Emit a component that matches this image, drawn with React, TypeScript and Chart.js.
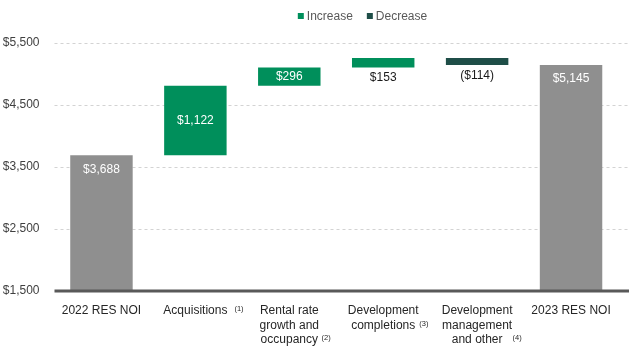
import React, { useEffect, useRef } from 'react';
import { Chart, registerables } from 'chart.js';

Chart.register(...registerables);

// ---------- data ----------
const categoryLines: string[][] = [
  ['2022 RES NOI'],
  ['Acquisitions'],
  ['Rental rate', 'growth and', 'occupancy'],
  ['Development', 'completions'],
  ['Development', 'management', 'and other'],
  ['2023 RES NOI'],
];
const footnotes = ['', '(1)', '(2)', '(3)', '(4)', ''];
const startTotal = 3688;
const changes = [1122, 296, 153, -114];
const endTotal = 5145;
const yTicks = [1500, 2500, 3500, 4500, 5500];
const legendLabels = ['Increase', 'Decrease'];

// ---------- styles ----------
const FONT = '"Liberation Sans", Arial, Helvetica, sans-serif';
const COLOR_TOTAL = '#8f8f8f';
const COLOR_INC = '#008f5b';
const COLOR_DEC = '#1f4e48';
const footnoteGap = [0, 7, 3.5, 4, 10, 0];
const LEGEND_CENTER_X = 362.5;

// build waterfall ranges from the values above
const totals: (number | null)[] = [startTotal, null, null, null, null, endTotal];
const increases: ([number, number] | null)[] = [null];
const decreases: ([number, number] | null)[] = [null];
{
  let cum = startTotal;
  changes.forEach((c) => {
    if (c >= 0) {
      increases.push([cum, cum + c]);
      decreases.push(null);
    } else {
      increases.push(null);
      decreases.push([cum + c, cum]);
    }
    cum += c;
  });
  increases.push(null);
  decreases.push(null);
}
const labelValues = [startTotal, ...changes, endTotal];

const fmt = (v: number) => {
  const s = '$' + Math.abs(v).toLocaleString('en-US');
  return v < 0 ? '(' + s + ')' : s;
};

const decorPlugin = {
  id: 'waterfallDecor',
  beforeDatasetsDraw(chart: any) {
    const { ctx, chartArea, scales } = chart;
    const y = scales.y;
    ctx.save();
    ctx.strokeStyle = '#d3d3d3';
    ctx.lineWidth = 1;
    ctx.setLineDash([3, 3]);
    yTicks.forEach((v) => {
      if (v === yTicks[0]) return;
      const py = Math.round(y.getPixelForValue(v)) + 0.5;
      ctx.beginPath();
      ctx.moveTo(chartArea.left, py);
      ctx.lineTo(chart.width, py);
      ctx.stroke();
    });
    ctx.restore();
  },
  afterDatasetsDraw(chart: any) {
    const { ctx, chartArea, scales } = chart;
    const x = scales.x;
    const y = scales.y;
    ctx.save();

    // baseline
    ctx.strokeStyle = '#595959';
    ctx.lineWidth = 3;
    ctx.beginPath();
    ctx.moveTo(chartArea.left, chartArea.bottom);
    ctx.lineTo(chart.width, chartArea.bottom);
    ctx.stroke();

    // data labels
    ctx.font = `12px ${FONT}`;
    ctx.textAlign = 'center';
    ctx.textBaseline = 'middle';
    labelValues.forEach((v, i) => {
      const cx = x.getPixelForValue(i);
      const txt = fmt(v);
      if (i === 0 || i === labelValues.length - 1) {
        const top = y.getPixelForValue(v);
        ctx.fillStyle = '#ffffff';
        ctx.fillText(txt, cx, top + 14);
      } else {
        const r = (increases[i] || decreases[i]) as [number, number];
        const pTop = y.getPixelForValue(Math.max(r[0], r[1]));
        const pBot = y.getPixelForValue(Math.min(r[0], r[1]));
        if (pBot - pTop >= 16) {
          ctx.fillStyle = '#ffffff';
          ctx.fillText(txt, cx, (pTop + pBot) / 2);
        } else {
          ctx.fillStyle = '#1a1a1a';
          ctx.fillText(txt, cx, pBot + 10.5);
        }
      }
    });

    // category labels
    ctx.textBaseline = 'alphabetic';
    categoryLines.forEach((lines, i) => {
      const cx = x.getPixelForValue(i);
      lines.forEach((line, j) => {
        const by = chartArea.bottom + 23 + j * 14.7;
        ctx.font = `12px ${FONT}`;
        ctx.fillStyle = '#262626';
        ctx.textAlign = 'center';
        ctx.fillText(line, cx, by);
        if (j === lines.length - 1 && footnotes[i]) {
          const w = ctx.measureText(line).width;
          ctx.font = `7.5px ${FONT}`;
          ctx.textAlign = 'left';
          ctx.fillText(footnotes[i], cx + w / 2 + footnoteGap[i], by - 3);
        }
      });
    });

    // legend
    ctx.font = `12px ${FONT}`;
    ctx.textAlign = 'left';
    ctx.textBaseline = 'alphabetic';
    const colors = [COLOR_INC, COLOR_DEC];
    const widths = legendLabels.map((t) => ctx.measureText(t).width);
    const box = 6;
    const gapText = 3;
    const gapItem = 14;
    const total =
      widths.reduce((a, b) => a + b, 0) + legendLabels.length * (box + gapText) + gapItem * (legendLabels.length - 1);
    let lx = LEGEND_CENTER_X - total / 2;
    legendLabels.forEach((t, i) => {
      ctx.fillStyle = colors[i];
      ctx.fillRect(lx, 13, box, box);
      lx += box + gapText;
      ctx.fillStyle = '#595959';
      ctx.fillText(t, lx, 19.5);
      lx += widths[i] + gapItem;
    });

    ctx.restore();
  },
};

export default function App() {
  const ref = useRef<HTMLCanvasElement>(null);
  useEffect(() => {
    if (!ref.current) return;
    const labels = categoryLines.map((l) => l.join(' '));
    const chart = new Chart(ref.current, {
      type: 'bar',
      data: {
        labels,
        datasets: [
          { label: 'Total', data: totals as any, backgroundColor: COLOR_TOTAL },
          { label: legendLabels[0], data: increases as any, backgroundColor: COLOR_INC },
          { label: legendLabels[1], data: decreases as any, backgroundColor: COLOR_DEC },
        ],
      },
      options: {
        responsive: false,
        animation: false,
        devicePixelRatio: 1,
        layout: { padding: { top: 43, right: 11, bottom: 64, left: 0 } },
        datasets: {
          bar: { grouped: false, categoryPercentage: 1, barPercentage: 0.665, borderWidth: 0 } as any,
        },
        plugins: {
          legend: { display: false },
          tooltip: { enabled: false },
        },
        scales: {
          x: { display: false },
          y: {
            min: 1500,
            max: 5500,
            grid: { display: false, drawTicks: false },
            border: { display: false },
            afterBuildTicks: (scale: any) => {
              scale.ticks = yTicks.map((v) => ({ value: v }));
            },
            afterFit: (scale: any) => {
              scale.width = 54.5;
            },
            ticks: {
              padding: 15,
              color: '#404040',
              font: { family: FONT, size: 12 },
              callback: (v: any) => '$' + Number(v).toLocaleString('en-US'),
            },
          },
        },
      },
      plugins: [decorPlugin],
    });
    return () => chart.destroy();
  }, []);
  return (
    <div style={{ position: 'absolute', left: 0, top: 0, width: 629, height: 355 }}>
      <canvas ref={ref} width={629} height={355} style={{ display: 'block' }} />
    </div>
  );
}
